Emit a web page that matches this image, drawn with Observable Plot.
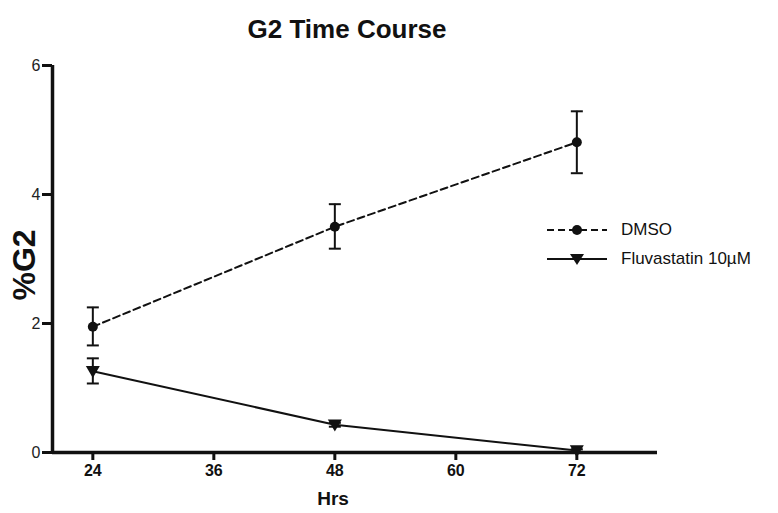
<!DOCTYPE html>
<html>
<head>
<meta charset="utf-8">
<script src="https://cdn.jsdelivr.net/npm/d3@7"></script>
<script src="https://cdn.jsdelivr.net/npm/@observablehq/plot@0.6"></script>
<style>
  body { margin: 0; background: #fff; font-family: "Liberation Sans", Arial, sans-serif; }
  #wrap { position: relative; width: 778px; height: 513px; }
  .legend { position: absolute; left: 545px; top: 215px; font-size: 17px; color: #111; }
  .legend .row { display: flex; align-items: center; height: 29px; }
  .legend svg { margin-right: 12px; }
</style>
</head>
<body>
<div id="wrap"></div>
<script>
const hours = [24, 48, 72];
const dmsoMean = [1.95, 3.50, 4.81];
const dmsoLow = [1.66, 3.16, 4.33];
const dmsoHigh = [2.25, 3.85, 5.29];
const fluvaMean = [1.26, 0.43, 0.03];
const fluvaLow = [1.07, 0.40, 0.01];
const fluvaHigh = [1.46, 0.46, 0.05];
const seriesNames = ["DMSO", "Fluvastatin 10µM"];
const xTicks = [24, 36, 48, 60, 72];
const yTicks = [0, 2, 4, 6];

const rows = [];
hours.forEach((h, i) => {
  rows.push({series: seriesNames[0], x: h, y: dmsoMean[i], lo: dmsoLow[i], hi: dmsoHigh[i]});
});
hours.forEach((h, i) => {
  rows.push({series: seriesNames[1], x: h, y: fluvaMean[i], lo: fluvaLow[i], hi: fluvaHigh[i]});
});
const dmso = rows.filter(d => d.series === seriesNames[0]);
const fluva = rows.filter(d => d.series === seriesNames[1]);

const cap = {draw(ctx, size) { const r = Math.sqrt(size / Math.PI); ctx.moveTo(-r, 0); ctx.lineTo(r, 0); }};
const triDown = {draw(ctx, size) { const r = Math.sqrt(size / Math.PI); ctx.moveTo(-r, -r * 0.75); ctx.lineTo(r, -r * 0.75); ctx.lineTo(0, r * 0.95); ctx.closePath(); }};

const chart = Plot.plot({
  width: 778,
  height: 513,
  marginTop: 65,
  marginBottom: 61,
  marginLeft: 52,
  marginRight: 121,
  style: {fontFamily: "'Liberation Sans', Arial, sans-serif", background: "white", color: "#111"},
  x: {domain: [20, 80], axis: null},
  y: {domain: [0, 6], axis: null},
  marks: [
    // axes
    Plot.axisY({ticks: yTicks, tickFormat: d3.format("d"), tickSize: 10, strokeWidth: 3, tickPadding: 2, fontSize: 16, label: null, stroke: "#111", fill: "#222"}),
    Plot.axisX({ticks: xTicks, tickFormat: d3.format("d"), tickSize: 8, strokeWidth: 3, tickPadding: 4, fontSize: 16, fontWeight: "bold", label: null, stroke: "#111", fill: "#111"}),
    Plot.ruleX([20], {stroke: "#111", strokeWidth: 3.5}),
    Plot.ruleY([0], {stroke: "#111", strokeWidth: 3.5, x1: 20, x2: 80}),
    // error bars
    Plot.ruleX(rows, {x: "x", y1: "lo", y2: "hi", stroke: "#111", strokeWidth: 2}),
    Plot.dot(rows, {x: "x", y: "lo", symbol: cap, r: 6, stroke: "#111", strokeWidth: 2}),
    Plot.dot(rows, {x: "x", y: "hi", symbol: cap, r: 6, stroke: "#111", strokeWidth: 2}),
    // lines
    Plot.line(dmso, {x: "x", y: "y", stroke: "#111", strokeWidth: 2, strokeDasharray: "7,4"}),
    Plot.line(fluva, {x: "x", y: "y", stroke: "#111", strokeWidth: 2}),
    // markers
    Plot.dot(dmso, {x: "x", y: "y", r: 5, fill: "#111", stroke: "none"}),
    Plot.dot(fluva, {x: "x", y: "y", symbol: triDown, r: 7, fill: "#111", stroke: "none"}),
    // titles
    Plot.text(["G2 Time Course"], {frameAnchor: "top", lineAnchor: "middle", dx: -8, dy: -36, fontSize: 26, fontWeight: "bold", fill: "#111"}),
    Plot.text(["%G2"], {frameAnchor: "left", textAnchor: "middle", lineAnchor: "middle", rotate: -90, dx: -28, dy: 6, fontSize: 32, fontWeight: "bold", fill: "#111"}),
    Plot.text(["Hrs"], {frameAnchor: "bottom", lineAnchor: "middle", dx: -22, dy: 46, fontSize: 19, fontWeight: "bold", fill: "#111"})
  ]
});

const wrap = document.getElementById("wrap");
wrap.appendChild(chart);

// legend overlay
const legend = d3.select(wrap).append("div").attr("class", "legend");
const styles = [
  {dash: "7,4", marker: "circle"},
  {dash: null, marker: "tri"}
];
seriesNames.forEach((name, i) => {
  const row = legend.append("div").attr("class", "row");
  const s = row.append("svg").attr("width", 64).attr("height", 16);
  s.append("line").attr("x1", 2).attr("x2", 62).attr("y1", 8).attr("y2", 8)
    .attr("stroke", "#111").attr("stroke-width", 2).attr("stroke-dasharray", styles[i].dash);
  if (styles[i].marker === "circle") {
    s.append("circle").attr("cx", 32).attr("cy", 8).attr("r", 5).attr("fill", "#111");
  } else {
    s.append("path").attr("d", "M25,3L39,3L32,14Z").attr("fill", "#111");
  }
  row.append("span").text(name);
});
</script>
</body>
</html>
